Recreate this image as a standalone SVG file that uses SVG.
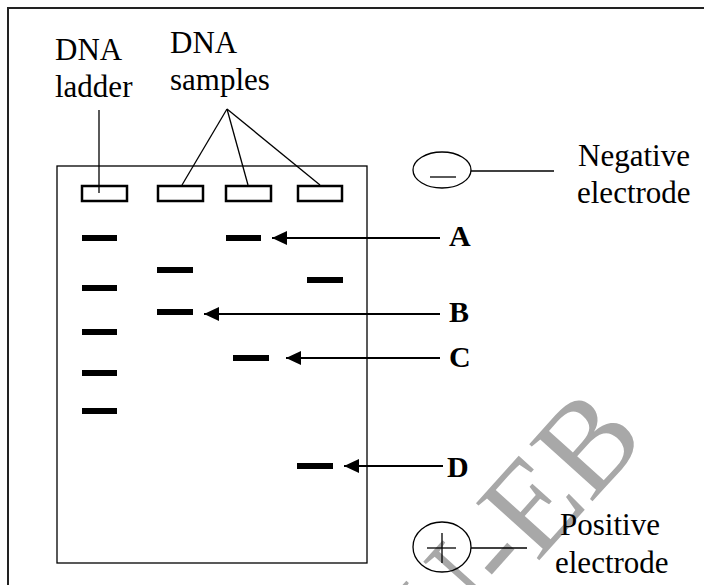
<svg xmlns="http://www.w3.org/2000/svg" width="704" height="585" viewBox="0 0 704 585">
  <style>
    text { font-family: "Liberation Serif", "DejaVu Serif", serif; }
    .lbl { font-size: 31px; fill: #000; }
    .key { font-size: 30px; font-weight: bold; fill: #000; }
    .thin { stroke: #000; stroke-width: 1.3; fill: none; }
    .well { stroke: #000; stroke-width: 2.5; fill: #fff; }
    .band { fill: #000; }
    .arrow { stroke: #000; stroke-width: 2; fill: none; marker-end: url(#head); }
    .mark { font-size: 130px; fill: #a8a8a8; }
  </style>
  <defs>
    <marker id="head" viewBox="0 -7 15 14" refX="15" refY="0" markerWidth="15" markerHeight="14" markerUnits="userSpaceOnUse" orient="auto">
      <path d="M0,-7 L15,0 L0,7 Z" fill="#000"/>
    </marker>
  </defs>
  <rect width="704" height="585" fill="#fff"/>

  <!-- background stamp -->
  <g id="stamp">
    <text class="mark" font-family="Liberation Serif, serif" transform="translate(445,665) rotate(-48)">U-EB</text>
  </g>

  <!-- frame -->
  <path d="M8,585 V8 H704" stroke="#222" stroke-width="2" fill="none"/>

  <!-- gel slab -->
  <g id="gel">
    <rect x="57" y="166" width="310" height="397" class="thin"/>
  </g>

  <!-- loading wells -->
  <g id="wells">
    <rect x="82" y="186" width="45" height="15" class="well"/>
    <rect x="158" y="186" width="45" height="15" class="well"/>
    <rect x="226" y="186" width="45" height="15" class="well"/>
    <rect x="298" y="186" width="44" height="15" class="well"/>
  </g>

  <!-- DNA bands -->
  <g id="ladder-bands">
    <rect x="82" y="235" width="35" height="6" class="band"/>
    <rect x="82" y="285" width="35" height="6" class="band"/>
    <rect x="82" y="329" width="35" height="6" class="band"/>
    <rect x="82" y="370" width="35" height="6" class="band"/>
    <rect x="82" y="408" width="35" height="6" class="band"/>
  </g>
  <g id="sample-bands">
    <rect x="157" y="267" width="36" height="6" class="band"/>
    <rect x="157" y="309" width="36" height="6" class="band"/>
    <rect x="226" y="235" width="35" height="6" class="band"/>
    <rect x="233" y="355" width="36" height="6" class="band"/>
    <rect x="307" y="277" width="36" height="6" class="band"/>
    <rect x="297" y="463" width="36" height="6" class="band"/>
  </g>

  <!-- electrodes -->
  <g id="negative-electrode">
    <ellipse cx="442" cy="170" rx="29" ry="18" class="thin"/>
    <line x1="430" y1="177" x2="456" y2="177" class="thin"/>
  </g>
  <g id="positive-electrode">
    <ellipse cx="442" cy="547" rx="29" ry="25" class="thin"/>
    <line x1="427" y1="548" x2="456" y2="548" class="thin"/>
    <line x1="442" y1="533" x2="442" y2="563" class="thin"/>
  </g>

  <!-- pointer lines and arrows -->
  <g id="connectors">
    <line x1="99" y1="110" x2="99" y2="193" class="thin"/>
    <line x1="227" y1="109" x2="182" y2="185" class="thin"/>
    <line x1="227" y1="109" x2="248" y2="185" class="thin"/>
    <line x1="227" y1="109" x2="320" y2="185" class="thin"/>
    <line x1="471" y1="171" x2="554" y2="171" class="thin"/>
    <line x1="471" y1="548" x2="527" y2="548" class="thin"/>
    <line x1="440" y1="238" x2="272" y2="238" class="arrow"/>
    <line x1="440" y1="314" x2="204" y2="314" class="arrow"/>
    <line x1="440" y1="358" x2="286" y2="358" class="arrow"/>
    <line x1="443" y1="466" x2="344" y2="466" class="arrow"/>
  </g>

  <!-- labels -->
  <g id="labels">
    <text class="lbl" x="55" y="60">DNA</text>
    <text class="lbl" x="55" y="97">ladder</text>
    <text class="lbl" x="170" y="53">DNA</text>
    <text class="lbl" x="170" y="90">samples</text>
    <text class="lbl" x="578" y="166">Negative</text>
    <text class="lbl" x="577" y="203">electrode</text>
    <text class="lbl" x="560" y="535">Positive</text>
    <text class="lbl" x="555" y="573">electrode</text>
    <text class="key" x="449" y="246">A</text>
    <text class="key" x="449" y="322">B</text>
    <text class="key" x="449" y="367">C</text>
    <text class="key" x="447" y="477">D</text>
  </g>
</svg>
